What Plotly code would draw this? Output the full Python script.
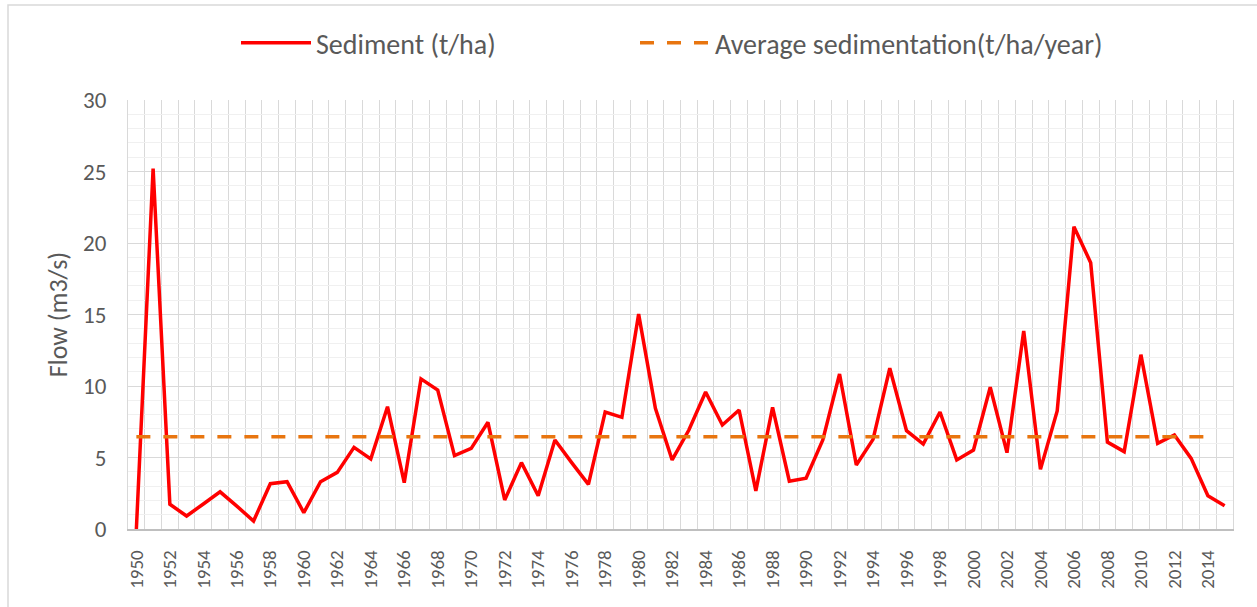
import plotly.graph_objects as go

# Annual sediment series, 1950-2015
years = list(range(1950, 2016))
sediment = [
    0.0, 25.2, 1.73, 0.91, 1.75, 2.6, 1.6, 0.56, 3.17, 3.31,
    1.14, 3.31, 3.96, 5.71, 4.9, 8.55, 3.24, 10.5, 9.72, 5.13,
    5.64, 7.46, 2.03, 4.64, 2.33, 6.22, 4.64, 3.12, 8.18, 7.81,
    15.03, 8.44, 4.83, 6.92, 9.58, 7.27, 8.32, 2.66, 8.51, 3.34,
    3.55, 6.22, 10.84, 4.48, 6.27, 11.24, 6.88, 5.94, 8.18, 4.83,
    5.52, 9.91, 5.34, 13.85, 4.17, 8.25, 21.14, 18.62, 6.08, 5.41,
    12.19, 5.99, 6.57, 4.94, 2.33, 1.63,
]

# Average sedimentation reference line (1950-2014)
avg_years = list(range(1950, 2015))
avg_value = 6.45
average = [avg_value] * len(avg_years)

tick_years = list(range(1950, 2015, 2))
tick_labels = [str(y) for y in tick_years]
y_ticks = [0, 5, 10, 15, 20, 25, 30]

FONT = "Calibri, Carlito, Lato, sans-serif"
TEXT = "#595959"

fig = go.Figure()
fig.add_trace(go.Scatter(
    x=years, y=sediment, mode="lines", name="Sediment (t/ha)",
    line=dict(color="#ff0000", width=3.5), legend="legend",
))
fig.add_trace(go.Scatter(
    x=avg_years, y=average, mode="lines", name="Average sedimentation(t/ha/year)",
    line=dict(color="#e8750f", width=3.5, dash="14px,13px"), legend="legend2",
))

W, H = 1257, 607
L, R, T, B = 128, 24, 100, 78
pw, ph = W - L - R, H - T - B

legend_style = dict(
    orientation="h", xanchor="left",
    y=1 + (T - 43) / ph, yanchor="middle",
    font=dict(size=28, color=TEXT), itemwidth=70,
    bgcolor="rgba(0,0,0,0)",
)

fig.update_layout(
    width=W, height=H,
    margin=dict(l=L, r=R, t=T, b=B),
    paper_bgcolor="white", plot_bgcolor="white",
    font=dict(family=FONT, color=TEXT, size=20),
    showlegend=True,
    legend=dict(x=(236 - L) / pw, **legend_style),
    legend2=dict(x=(635 - L) / pw, **legend_style),
    xaxis=dict(
        range=[1949.5, 2015.5], tickmode="array",
        tickvals=tick_years, ticktext=tick_labels, tickangle=-90,
        tickfont=dict(size=19, color=TEXT),
        showgrid=False, zeroline=False,
        showline=True, linecolor="#bfbfbf", linewidth=1.5,
        ticks="", ticklabelstandoff=12,
        minor=dict(tick0=1949.5, dtick=1, showgrid=True,
                   gridcolor="#d9d9d9", gridwidth=1.2),
    ),
    yaxis=dict(
        range=[0, 30], tickmode="array", tickvals=y_ticks,
        tickfont=dict(size=23, color=TEXT),
        showgrid=True, gridcolor="#d9d9d9", gridwidth=1.2,
        zeroline=False, showline=True, mirror=True,
        linecolor="#d9d9d9", linewidth=1.2,
        ticks="", ticklabelstandoff=16,
        minor=dict(dtick=1, showgrid=True, gridcolor="#f0f0f0", gridwidth=1),
        title=dict(text="Flow (m3/s)", font=dict(size=26, color=TEXT), standoff=7),
    ),
    shapes=[dict(
        type="rect", xref="paper", yref="paper",
        x0=(8 - L) / pw, x1=(W + 10 - L) / pw,
        y0=-(B + 10) / ph, y1=1 + (T - 5) / ph,
        line=dict(color="#d9d9d9", width=1.5), fillcolor="rgba(0,0,0,0)",
        layer="below",
    )],
)

fig.write_html("out.html")
